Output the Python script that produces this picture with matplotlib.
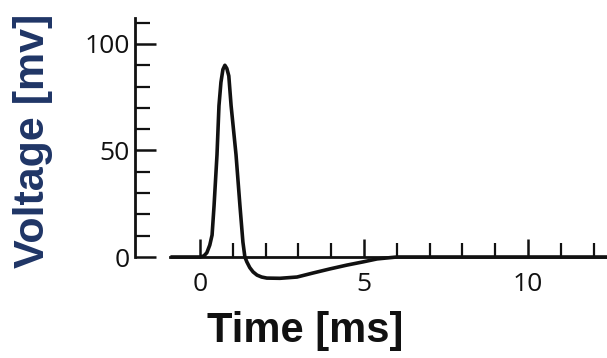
import matplotlib
matplotlib.use("Agg")
import matplotlib.pyplot as plt
from matplotlib.ticker import FixedLocator

# action potential trace (time in ms, voltage in mV)
time_ms = [-0.9, 0.0, 0.12, 0.21, 0.30, 0.37, 0.43, 0.52, 0.58, 0.64, 0.70,
           0.76, 0.82, 0.88, 0.95, 1.10, 1.22, 1.31, 1.37, 1.43, 1.52, 1.62,
           1.74, 1.88, 2.04, 2.44, 2.96, 3.45, 3.96, 4.48, 4.97, 5.40, 6.0, 12.41]
volts = [0, 0, 0.5, 2, 5.6, 10.3, 24, 48, 71, 82, 88,
         90, 88.5, 85, 71, 48, 24, 7, 0, -2.3, -5, -7,
         -8.5, -9.4, -9.9, -10, -9.4, -7.5, -5.6, -3.8, -2.3, -0.9, 0, 0]

x_ticks = [0, 5, 10]
y_ticks = [0, 50, 100]
x_minor = [1, 2, 3, 4, 6, 7, 8, 9, 11, 12]
y_minor = [10, 20, 30, 40, 60, 70, 80, 90, 110]

fig = plt.figure(figsize=(6.07, 3.58), dpi=100)
ax = fig.add_axes([0.2224, 0.1631, 0.7776, 0.8034])

ax.plot(time_ms, volts, color="#111111", lw=2.6, solid_capstyle="butt",
        solid_joinstyle="round")

ax.set_xlim(-1.98, 12.41)
ax.set_ylim(-20, 115)

for s in ["top", "right"]:
    ax.spines[s].set_visible(False)
ax.spines["bottom"].set_position(("data", 0))
ax.spines["bottom"].set_bounds(-0.9, 12.41)
ax.spines["left"].set_bounds(0, 112)
for s in ["bottom", "left"]:
    ax.spines[s].set_linewidth(2.0)
    ax.spines[s].set_color("#111111")

ax.set_xticks(x_ticks)
ax.set_yticks(y_ticks)
ax.xaxis.set_minor_locator(FixedLocator(x_minor))
ax.yaxis.set_minor_locator(FixedLocator(y_minor))

ax.tick_params(axis="x", which="major", direction="in", length=13, width=1.8,
               pad=11, colors="#111111")
ax.tick_params(axis="x", which="minor", direction="in", length=10, width=1.6,
               colors="#111111")
ax.tick_params(axis="y", which="major", direction="in", length=15, width=1.8,
               pad=4, colors="#111111")
ax.tick_params(axis="y", which="minor", direction="in", length=11, width=1.6,
               colors="#111111")
for lab in ax.get_xticklabels() + ax.get_yticklabels():
    lab.set_fontfamily("Open Sans")
    lab.set_fontsize(19)

fig.text(0.502, 0.075, "Time [ms]", ha="center", va="center",
         fontsize=30, fontweight="bold", family="Liberation Sans", color="#111111")
fig.text(0.055, 0.606, "Voltage [mv]", ha="center", va="center", rotation=90,
         fontsize=31, fontweight="bold", family="Liberation Sans", color="#1f3566")

fig.savefig("out.png", dpi=100)
